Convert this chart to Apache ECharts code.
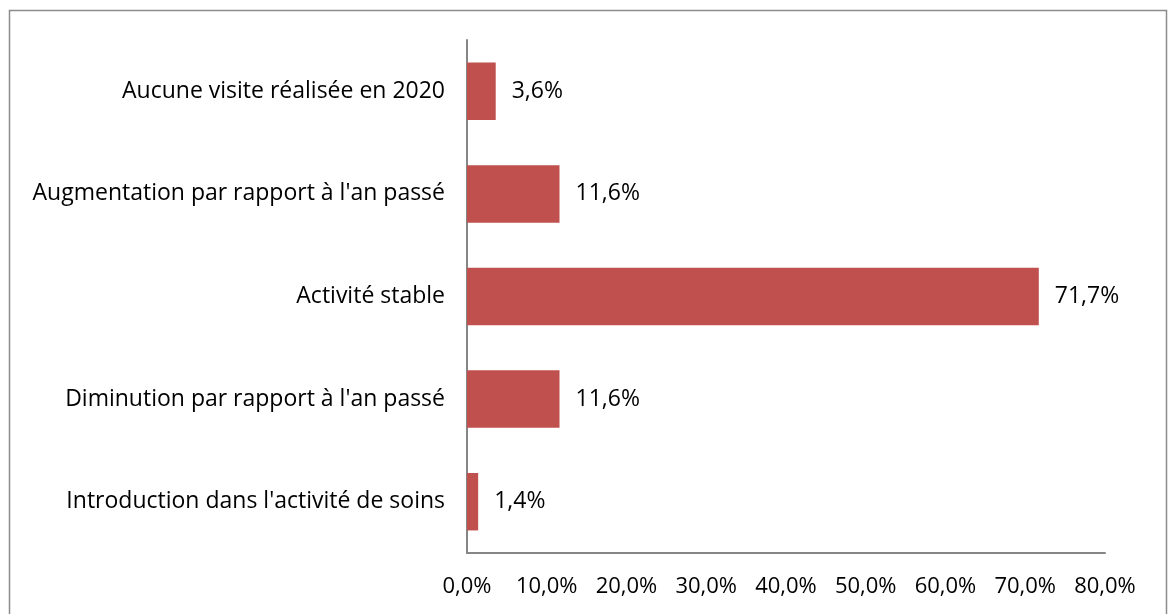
<!DOCTYPE html>
<html>
<head>
<meta charset="utf-8">
<script src="https://cdn.jsdelivr.net/npm/echarts@6/dist/echarts.min.js"></script>
<style>
  html, body { margin: 0; padding: 0; background: #fff; }
  #chart { width: 1168px; height: 614px; }
</style>
</head>
<body>
<div id="chart"></div>
<script>
// categories from bottom to top
const categories = [
  "Introduction dans l'activité de soins",
  "Diminution par rapport à l'an passé",
  'Activité stable',
  "Augmentation par rapport à l'an passé",
  'Aucune visite réalisée en 2020'
]
const values = [1.4, 11.6, 71.7, 11.6, 3.6]

const fmt = v => v.toFixed(1).replace('.', ',') + '%'
const font = '"Open Sans", sans-serif'

const myChart = echarts.init(document.getElementById('chart'))
const option = {
  backgroundColor: '#fff',
  animation: false,
  textStyle: { fontFamily: font },
  graphic: [{
    type: 'rect',
    shape: { x: 9.5, y: 10.5, width: 1157, height: 620 },
    style: { fill: 'none', stroke: '#8c8c8c', lineWidth: 1.5 }
  }],
  grid: {
    left: 467,
    right: 63,
    top: 40,
    bottom: 61
  },
  xAxis: {
    type: 'value',
    min: 0,
    max: 80,
    interval: 10,
    splitLine: { show: false },
    axisTick: { show: false },
    axisLine: { show: true, lineStyle: { color: '#868686', width: 2 } },
    axisLabel: {
      formatter: fmt,
      color: '#000',
      fontSize: 22,
      fontFamily: font,
      margin: 23
    }
  },
  yAxis: {
    type: 'category',
    data: categories,
    axisTick: { show: false },
    axisLine: { show: true, lineStyle: { color: '#868686', width: 2 } },
    axisLabel: {
      color: '#000',
      fontSize: 23,
      fontFamily: font,
      margin: 22
    }
  },
  series: [{
    type: 'bar',
    data: values,
    barWidth: '56%',
    itemStyle: { color: '#C0504D' },
    label: {
      show: true,
      position: 'right',
      distance: 16,
      formatter: p => fmt(p.value),
      color: '#000',
      fontSize: 23,
      fontFamily: font
    }
  }]
}
myChart.setOption(option)
window.onresize = function () {
  myChart.resize()
}
</script>
</body>
</html>
